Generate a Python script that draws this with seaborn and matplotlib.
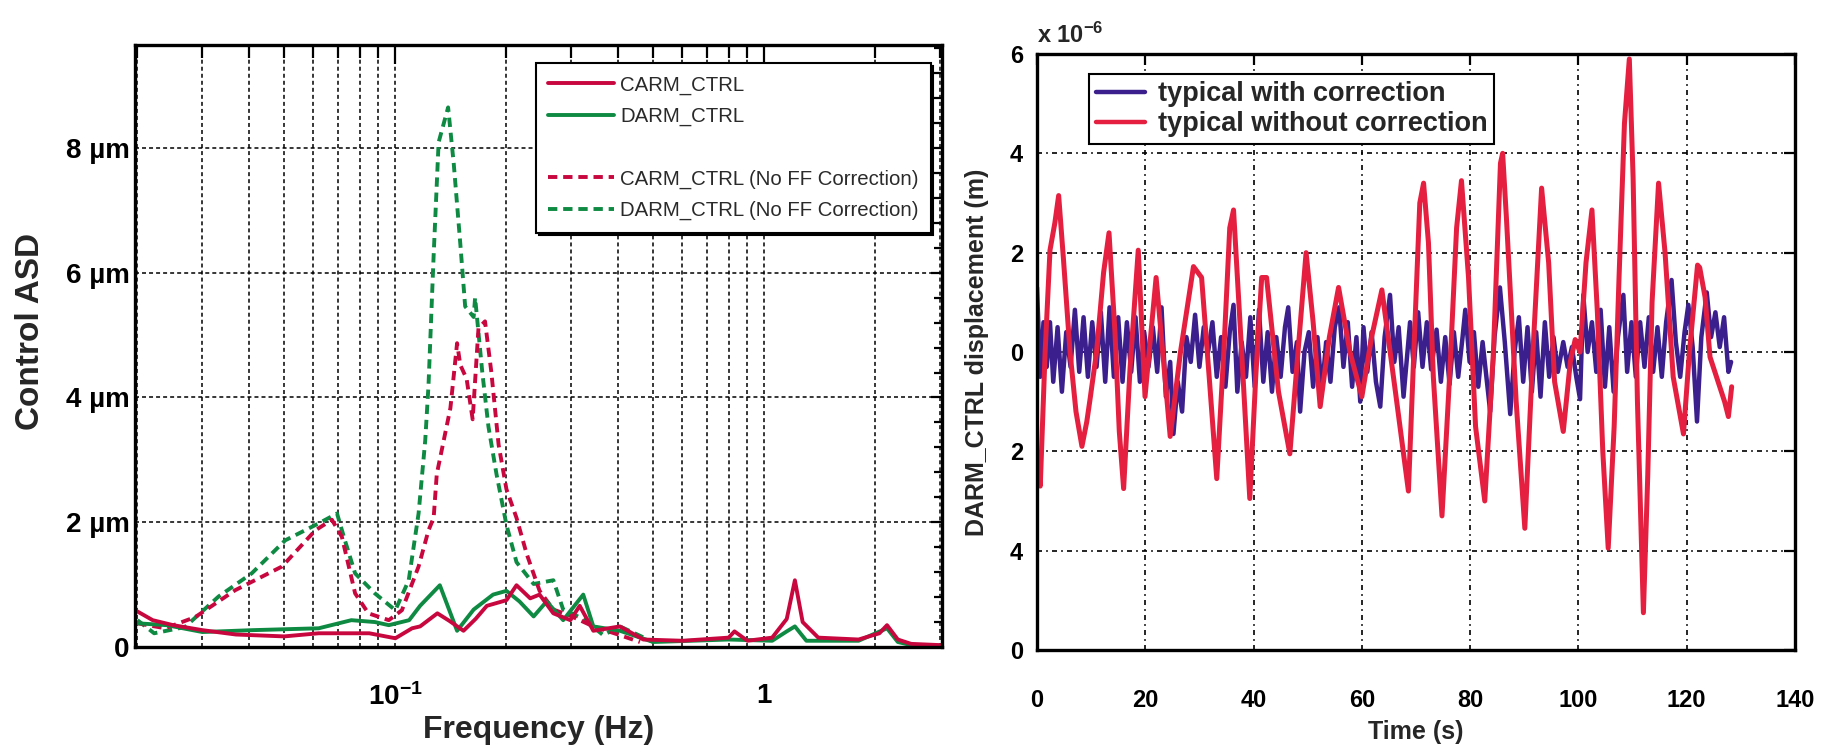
import numpy as np
import pandas as pd
import seaborn as sns
import matplotlib.pyplot as plt
from matplotlib.lines import Line2D
from matplotlib.ticker import FixedLocator, FixedFormatter, LogLocator, MultipleLocator, NullFormatter

# Style
sns.set_theme(style="white", context="notebook")
plt.rcParams["font.family"] = ["Liberation Sans", "DejaVu Sans"]
plt.rcParams["font.weight"] = "bold"
plt.rcParams["mathtext.fontset"] = "custom"
plt.rcParams["mathtext.bf"] = "Liberation Sans:bold"
plt.rcParams["mathtext.rm"] = "Liberation Sans"
plt.rcParams["mathtext.default"] = "bf"

CRIMSON = "#c8073f"
GREEN = "#0e8a43"
BLUE = "#3b1f8c"
RED = "#e41f3f"

# ---------------- Left panel: control ASD (um) vs frequency (Hz) ----------------
carm_f = [0.02, 0.022, 0.025, 0.03, 0.037, 0.05, 0.062, 0.085, 0.1, 0.111, 0.1167, 0.13,
          0.14, 0.153, 0.165, 0.177, 0.2, 0.213, 0.232, 0.246, 0.268, 0.298, 0.316, 0.344,
          0.406, 0.47, 0.6, 0.8, 0.83, 0.9, 1.05, 1.15, 1.21, 1.27, 1.4, 1.8, 2.05, 2.15,
          2.3, 2.5, 3.0]
carm = [0.57, 0.43, 0.35, 0.27, 0.2, 0.17, 0.22, 0.22, 0.14, 0.30, 0.33, 0.54,
        0.42, 0.26, 0.45, 0.66, 0.75, 0.99, 0.78, 0.84, 0.54, 0.43, 0.66, 0.26,
        0.33, 0.12, 0.1, 0.15, 0.25, 0.1, 0.15, 0.45, 1.07, 0.4, 0.15, 0.12, 0.22, 0.35,
        0.12, 0.05, 0.03]

darm_f = [0.02, 0.024, 0.03, 0.041, 0.062, 0.076, 0.088, 0.096, 0.109, 0.1167, 0.132,
          0.147, 0.163, 0.184, 0.2, 0.217, 0.237, 0.257, 0.285, 0.323, 0.344, 0.406, 0.5,
          0.8, 1.05, 1.15, 1.21, 1.3, 1.8, 2.15, 2.3, 2.5, 3.0]
darm = [0.38, 0.35, 0.24, 0.27, 0.30, 0.43, 0.40, 0.35, 0.43, 0.66, 0.99,
        0.26, 0.6, 0.84, 0.9, 0.73, 0.49, 0.73, 0.43, 0.84, 0.33, 0.26, 0.08,
        0.12, 0.1, 0.25, 0.33, 0.1, 0.1, 0.3, 0.08, 0.03, 0.02]

carm_nf_f = [0.02, 0.0238, 0.0287, 0.0368, 0.0493, 0.0607, 0.0673, 0.0716, 0.0778, 0.0845,
             0.096, 0.1042, 0.1156, 0.123, 0.127, 0.1295, 0.141, 0.147, 0.150, 0.156, 0.162,
             0.168, 0.175, 0.182, 0.1905, 0.2, 0.213, 0.227, 0.246, 0.268, 0.298, 0.344,
             0.406, 0.46]
carm_nf = [0.38, 0.30, 0.48, 0.91, 1.29, 1.87, 2.04, 1.77, 0.86, 0.54,
           0.43, 0.59, 1.29, 1.87, 2.07, 2.77, 3.83, 4.87, 4.52, 4.3, 3.65,
           5.11, 5.22, 4.41, 3.24, 2.53, 2.07, 1.49, 0.9, 0.6, 0.5, 0.33,
           0.19, 0.08]

darm_nf_f = [0.02, 0.0222, 0.0269, 0.0332, 0.0408, 0.0503, 0.0619, 0.0695, 0.073, 0.0778,
             0.088, 0.1, 0.1087, 0.1156, 0.1205, 0.123, 0.127, 0.131, 0.139, 0.144, 0.150,
             0.1546, 0.163, 0.1645, 0.172, 0.1788, 0.188, 0.2, 0.213, 0.237, 0.268, 0.285,
             0.323, 0.366, 0.406, 0.5]
darm_nf = [0.43, 0.22, 0.32, 0.81, 1.18, 1.71, 1.98, 2.14, 1.71, 1.18,
           0.86, 0.59, 1.07, 2.14, 3.31, 4.2, 6.28, 8.09, 8.65, 7.74, 6.46,
           5.46, 5.29, 5.6, 4.41, 3.53, 2.77, 1.96, 1.36, 1.01, 1.07, 0.6,
           0.45, 0.19, 0.33, 0.08]

asd_labels = ["CARM_CTRL", "DARM_CTRL", " ",
              "CARM_CTRL (No FF Correction)", "DARM_CTRL (No FF Correction)"]
asd_yticks = [0, 2, 4, 6, 8]
asd_yticklabels = ["0", "2 µm", "4 µm", "6 µm", "8 µm"]

# ---------------- Right panel: DARM_CTRL displacement (1e-6 m) vs time (s) ----------------
t_with = [0.0, 0.6, 1.2, 1.8, 2.4, 3.0, 3.8, 4.6, 5.4, 6.2, 7.0, 7.8, 8.6, 9.4, 10.2, 11.0,
          11.8, 12.6, 13.4, 14.2, 15.0, 15.8, 16.6, 17.4, 18.2, 19.0, 19.8, 20.6, 21.4, 22.2,
          23.0, 23.8, 24.6, 25.2, 26.0, 26.8, 27.6, 28.4, 29.2, 30.0, 30.8, 31.6, 32.4, 33.2,
          34.0, 34.8, 35.6, 36.3, 37.0, 37.8, 38.6, 39.4, 40.2, 41.0, 41.8, 42.6, 43.4, 44.2,
          45.0, 45.8, 46.4, 47.2, 48.0, 48.6, 49.4, 50.2, 51.0, 51.8, 52.6, 53.4, 54.2, 55.0,
          55.8, 56.6, 57.4, 58.2, 59.0, 59.7, 60.3, 61.0, 61.8, 62.6, 63.4, 64.2, 65.2, 66.0,
          66.8, 67.7, 68.9, 69.6, 70.4, 71.2, 72.0, 72.8, 73.8, 74.6, 75.4, 76.2, 77.0, 77.8,
          78.6, 79.1, 79.9, 80.7, 81.5, 82.3, 83.0, 83.7, 84.5, 85.5, 86.4, 87.4, 88.2, 89.0,
          89.8, 90.6, 91.4, 92.2, 93.0, 93.8, 94.6, 95.4, 96.2, 97.2, 98.0, 98.8, 99.6, 100.3,
          100.9, 101.7, 102.5, 103.3, 104.1, 104.9, 105.7, 106.5, 107.3, 108.3, 109.0, 109.8,
          110.6, 111.4, 112.2, 113.0, 113.8, 114.6, 115.4, 116.2, 117.2, 118.0, 118.8, 119.6,
          120.3, 121.1, 121.9, 122.7, 123.7, 124.5, 125.3, 126.1, 126.9, 127.7, 128.2]
with_corr = [1.3, -0.5, 0.6, -0.3, 0.6, -0.6, 0.5, -0.8, 0.4, -0.3, 0.85, -0.4, 0.7, -0.5, 0.6, -0.3,
             0.8, -0.6, 0.9, -0.5, 0.7, -0.6, 0.6, -0.4, 0.7, -0.6, 0.4, -0.3, 0.5, -0.4,
             0.9, -0.9, -0.2, -1.65, -0.6, -1.2, 0.3, -0.2, 0.75, -0.3, 0.5, 0.0, 0.6, -0.5,
             0.3, -0.7, 0.4, 0.95, -0.8, 0.2, -0.5, 0.7, -0.7, 0.85, -0.6, 0.4, -0.8, 0.3,
             -0.5, 0.5, 0.9, -0.4, 0.2, -1.2, 0.0, 0.4, -0.7, 0.3, -0.8, 0.2, -0.6, 0.5,
             0.9, -0.3, 0.6, -0.7, 0.3, -1.0, 0.5, -0.4, 0.4, -0.6, -1.1, 0.3, 1.15, -0.2,
             0.5, -0.9, 0.6, -0.3, 0.8, -0.3, 0.6, -0.35, 0.45, -0.6, 0.3, -0.65, 0.4, -0.5,
             0.3, 0.85, -0.2, 0.4, -0.7, 0.2, -0.5, -1.2, 0.3, 1.3, 0.2, -1.25, 0.0, 0.7,
             -0.6, 0.5, -0.8, 0.4, -0.9, 0.6, -0.5, 0.3, -0.4, 0.2, -0.3, 0.1, -0.5, -0.95,
             1.15, 0.0, 0.6, -0.4, 0.85, -0.7, 0.5, -0.8, 0.3, 1.15, -0.4, 0.6,
             -0.5, 0.6, -0.3, 0.7, -0.4, 0.5, -0.5, 0.6, 1.45, 0.2, -0.5, 0.4,
             0.95, 0.1, -1.4, 0.3, 1.2, 0.3, 0.8, 0.1, 0.7, -0.4, -0.2]

t_without = [0.0, 0.6, 1.5, 2.4, 3.3, 4.0, 4.9, 6.1, 7.2, 8.3, 9.2, 9.8, 11.0, 12.3, 13.3, 14.4,
             15.2, 16.0, 17.2, 18.7, 19.95, 22.0, 24.6, 26.5, 28.9, 30.4, 31.8, 33.2, 34.5, 35.6,
             36.3, 37.8, 39.3, 40.4, 41.5, 42.4, 44.6, 46.7, 48.2, 49.7, 51.0, 52.3, 54.0, 55.7,
             57.8, 60.0, 61.8, 63.7, 66.2, 68.6, 69.6, 70.7, 71.4, 72.3, 73.2, 74.8, 76.2, 77.5,
             78.4, 79.7, 81.0, 82.7, 84.3, 85.6, 86.0, 86.7, 88.5, 90.1, 91.6, 93.2, 94.5, 95.6,
             97.2, 98.5, 99.4, 100.3, 101.4, 102.5, 103.5, 104.5, 105.5, 106.6, 107.5, 108.5,
             109.4, 110.1, 110.9, 112.0, 112.8, 113.6, 114.8, 116.0, 117.5, 119.4, 120.5, 122.0,
             122.4, 123.4, 124.3, 125.5, 127.0, 127.7, 128.3]
without_corr = [-2.2, -2.7, 0.0, 2.05, 2.6, 3.15, 1.85, 0.0, -1.2, -1.9, -1.4, -0.95, 0.0, 1.6, 2.4, 0.4,
                -1.6, -2.75, -0.3, 2.05, -0.9, 1.5, -1.7, 0.0, 1.72, 1.5, -0.5, -2.55, 0.0, 2.5,
                2.86, 0.0, -2.95, -0.5, 1.5, 1.5, -0.8, -2.05, 0.0, 2.0, 0.6, -1.1, 0.3, 1.3,
                0.0, -0.9, 0.3, 1.25, -0.8, -2.8, 0.0, 3.0, 3.4, 2.2, -0.5, -3.3, -0.5, 2.5,
                3.45, 1.5, -1.5, -3.0, 0.0, 3.8, 4.0, 2.7, -1.0, -3.55, 0.0, 3.3, 1.8, -0.6,
                -1.6, -0.2, 0.25, 0.0, 1.8, 2.86, 0.8, -2.0, -3.95, -1.5, 1.5, 4.6,
                5.9, 3.5, -1.0, -5.25, -2.5, 1.0, 3.4, 2.0, -0.5, -1.65, 0.0, 1.75,
                1.7, 1.1, -0.1, -0.5, -1.0, -1.3, -0.7]

disp_labels = ["typical with correction", "typical without correction"]
disp_yticks = [-6, -4, -2, 0, 2, 4, 6]
disp_yticklabels = ["0", "4", "2", "0", "2", "4", "6"]
time_ticks = [0, 20, 40, 60, 80, 100, 120, 140]

# ---------------- Figure ----------------
W, H = 1831, 747
fig = plt.figure(figsize=(W / 100, H / 100), dpi=100)
ax1 = fig.add_axes([135 / W, (H - 647) / H, 807 / W, 602 / H])
ax2 = fig.add_axes([1037 / W, (H - 650) / H, 758 / W, 596 / H])

DASH = (2.4, 1.5)

# left panel curves (dashed first, solids on top)
series = [
    (darm_nf_f, darm_nf, GREEN, True),
    (carm_nf_f, carm_nf, CRIMSON, True),
    (darm_f, darm, GREEN, False),
    (carm_f, carm, CRIMSON, False),
]
for f, v, c, dashed in series:
    df = pd.DataFrame({"freq": f, "asd": v})
    sns.lineplot(data=df, x="freq", y="asd", ax=ax1, color=c, linewidth=2.8,
                 estimator=None, sort=False, legend=False)
    if dashed:
        ax1.lines[-1].set_dashes(DASH)

ax1.set_xscale("log")
ax1.set_xlim(0.0197, 3.03)
ax1.set_ylim(0, 9.65)
ax1.xaxis.set_major_locator(FixedLocator([0.1, 1]))
ax1.xaxis.set_major_formatter(FixedFormatter([r"10$^{-1}$", "1"]))
ax1.xaxis.set_minor_locator(LogLocator(base=10, subs=np.arange(2, 10)))
ax1.xaxis.set_minor_formatter(NullFormatter())
ax1.yaxis.set_major_locator(FixedLocator(asd_yticks))
ax1.yaxis.set_major_formatter(FixedFormatter(asd_yticklabels))
ax1.yaxis.set_minor_locator(MultipleLocator(0.4))
ax1.grid(True, which="both", axis="x", color="black", linewidth=1.1, linestyle=(0, (2.6, 2.0)))
ax1.grid(True, which="major", axis="y", color="black", linewidth=1.1, linestyle=(0, (2.6, 2.0)))
ax1.tick_params(axis="both", which="both", direction="in", top=True, right=True,
                colors="black", labelsize=20)
ax1.tick_params(axis="x", which="major", length=14, width=1.6, pad=26)
ax1.tick_params(axis="x", which="minor", length=9, width=1.6)
ax1.tick_params(axis="y", which="major", length=8, width=1.6, pad=4)
ax1.tick_params(axis="y", which="minor", length=6, width=1.6)
ax1.set_xlabel("Frequency (Hz)", fontsize=23, fontweight="bold")
ax1.set_ylabel("Control ASD", fontsize=24, fontweight="bold")
ax1.xaxis.set_label_coords(0.5, -0.113)
ax1.yaxis.set_label_coords(-0.110, 0.525)

handles = [
    Line2D([], [], color=CRIMSON, lw=2.8),
    Line2D([], [], color=GREEN, lw=2.8),
    Line2D([], [], color="none"),
    Line2D([], [], color=CRIMSON, lw=2.8, dashes=DASH),
    Line2D([], [], color=GREEN, lw=2.8, dashes=DASH),
]
leg1 = ax1.legend(handles, asd_labels, loc="upper right", bbox_to_anchor=(0.986, 0.970),
                  prop={"size": 14.7, "weight": "normal"}, handlelength=3.2, handletextpad=0.3,
                  labelspacing=0.6, borderpad=0.6, borderaxespad=0, fancybox=False,
                  framealpha=1, edgecolor="black",
                  shadow={"color": "black", "alpha": 1})
leg1.get_frame().set_linewidth(1.5)
for txt in leg1.get_texts():
    txt.set_color("#2a2a2a")

# right panel curves
df_with = pd.DataFrame({"time": t_with, "disp": with_corr})
df_without = pd.DataFrame({"time": t_without, "disp": without_corr})
sns.lineplot(data=df_with, x="time", y="disp", ax=ax2, color=BLUE, linewidth=3.2,
             estimator=None, sort=False, legend=False)
sns.lineplot(data=df_without, x="time", y="disp", ax=ax2, color=RED, linewidth=3.6,
             estimator=None, sort=False, legend=False)

ax2.set_xlim(0, 140)
ax2.set_ylim(-6, 6)
ax2.xaxis.set_major_locator(FixedLocator(time_ticks))
ax2.yaxis.set_major_locator(FixedLocator(disp_yticks))
ax2.yaxis.set_major_formatter(FixedFormatter(disp_yticklabels))
ax2.grid(True, color="black", linewidth=1.2, linestyle=(0, (3, 2.5, 1, 2.5)))
ax2.tick_params(axis="both", direction="in", top=True, right=True, length=8, width=1.6,
                colors="black", labelsize=17)
ax2.tick_params(axis="x", pad=28)
ax2.tick_params(axis="y", pad=10)
ax2.set_xlabel("Time (s)", fontsize=18, fontweight="bold")
ax2.set_ylabel("DARM_CTRL displacement (m)", fontsize=18, fontweight="bold")
ax2.xaxis.set_label_coords(0.5, -0.117)
ax2.yaxis.set_label_coords(-0.063, 0.5)
ax2.text(0.0, 1.01, r"x 10$^{-6}$", transform=ax2.transAxes, ha="left", va="bottom",
         fontsize=17, fontweight="bold")

leg2 = ax2.legend([Line2D([], [], color=BLUE, lw=3.2), Line2D([], [], color=RED, lw=3.2)],
                  disp_labels, loc="upper left", bbox_to_anchor=(0.0686, 0.966),
                  prop={"size": 19.5, "weight": "bold"}, handlelength=1.8, handletextpad=0.5,
                  labelspacing=0.15, borderpad=0.25, borderaxespad=0, fancybox=False,
                  framealpha=1, edgecolor="black")
leg2.get_frame().set_linewidth(1.5)

for ax in (ax1, ax2):
    for sp in ax.spines.values():
        sp.set_linewidth(2.4)
        sp.set_color("black")
    ax.set_facecolor("white")

fig.savefig("out.png", dpi=100, facecolor="white")
